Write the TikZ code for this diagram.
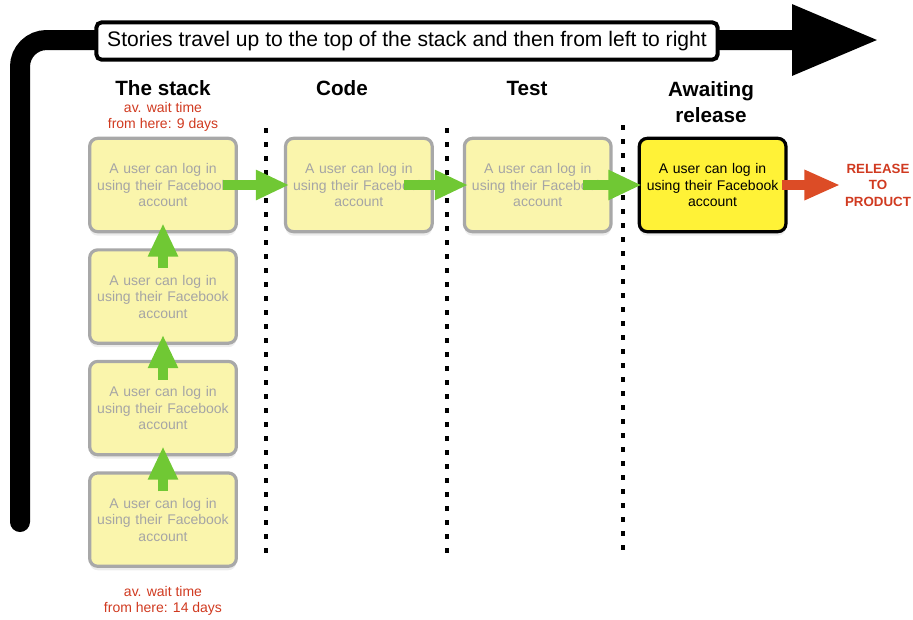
\documentclass[tikz,border=0pt]{standalone}
\usepackage{fontspec}
\setmainfont{Liberation Sans}
\usetikzlibrary{positioning,arrows.meta,shadows}
\definecolor{cardfill}{RGB}{250,245,172}
\definecolor{cardline}{RGB}{168,168,168}
\definecolor{cardtext}{RGB}{165,165,165}
\definecolor{hotfill}{RGB}{255,242,55}
\definecolor{flowgreen}{RGB}{112,200,52}
\definecolor{waitred}{RGB}{208,58,32}
\definecolor{shipred}{RGB}{220,76,38}
\begin{document}
\begin{tikzpicture}[x=0.75pt, y=-0.75pt,
  node distance=11.25pt and 34.5pt,
  card/.style={draw=cardline, fill=cardfill, line width=2.4pt, rounded corners=6pt, align=center,
    inner sep=1pt, text width=106pt, minimum width=110pt, minimum height=70pt,
    font=\fontsize{10.5}{12.4}\selectfont, text=cardtext,
    drop shadow={opacity=0.15, shadow xshift=0pt, shadow yshift=-3pt}},
  hotcard/.style={card, draw=black, fill=hotfill, text=black},
  head/.style={align=center, font=\fontsize{15.5}{19}\selectfont\bfseries},
  wait/.style={align=center, text=waitred, font=\fontsize{10.5}{12}\selectfont},
  garr/.style={-{Triangle[length=25pt, width=21pt]}, line width=8pt, flowgreen},
  rarr/.style={-{Triangle[length=27pt, width=21pt]}, line width=7pt, shipred},
  sep/.style={line width=3pt, dash pattern=on 4pt off 6.5pt}]
\useasboundingbox (0,0) rectangle (913,619);
% big flow arrow round the board
\coordinate (flowstart) at (20,522);
\coordinate (flowbend) at (20,40);
\coordinate (flowend) at (880,40);
\draw[line width=15pt, line cap=round, rounded corners=20pt, -{Triangle[length=66pt, width=49pt]}]
  (flowstart) -- (flowbend) -- (flowend);
\node[draw, line width=3pt, fill=white, rounded corners=4pt, minimum width=466pt, minimum height=28pt,
  font=\fontsize{15.8}{17}\selectfont] (title) at (407,41) {Stories travel up to the top of the stack and then from left to right};
% columns
\node[head] (hstack) at (163,88) {The stack};
\node[head] (hcode) at (342,88) {Code};
\node[head] (htest) at (527,88) {Test};
\node[head] (hwait) at (711,102) {Awaiting\\release};
\node[wait] (wtop) at (163,117) {av. wait time\\from here: 9 days};
\node[wait] (wbot) at (163,601) {av. wait time\\from here: 14 days};
\draw[sep] (266,128) -- (266,560);
\draw[sep] (447,128) -- (447,560);
\draw[sep] (623,125) -- (623,557);
% cards
\node[card] (s1) at (163,185) {A user can log in\\using their Facebook\\account};
\node[card, below=of s1] (s2) {A user can log in\\using their Facebook\\account};
\node[card, below=of s2] (s3) {A user can log in\\using their Facebook\\account};
\node[card, below=of s3] (s4) {A user can log in\\using their Facebook\\account};
\node[card, right=of s1] (code) {A user can log in\\using their Facebook\\account};
\node[card, right=21.75pt of code] (test) {A user can log in\\using their Facebook\\account};
\node[hotcard, right=18.75pt of test] (ready) {A user can log in\\using their Facebook\\account};
\node[align=center, text=waitred, font=\fontsize{10}{12.4}\selectfont\bfseries] (ship) at (878,185) {RELEASE\\TO\\PRODUCT};
% moves
\foreach \a/\b in {s4/s3,s3/s2,s2/s1} \draw[garr] ([yshift=-15pt]\a.north) -- ([yshift=7.5pt]\b.south);
\draw[garr] ([xshift=-11pt]s1.east) -- ([xshift=4pt]code.west);
\draw[garr] ([xshift=-22pt]code.east) -- ([xshift=4pt]test.west);
\draw[garr] ([xshift=-22pt]test.east) -- ([xshift=3pt]ready.west);
\draw[rarr] ([xshift=-4pt]ready.east) -- (ship.west);
\end{tikzpicture}
\end{document}
